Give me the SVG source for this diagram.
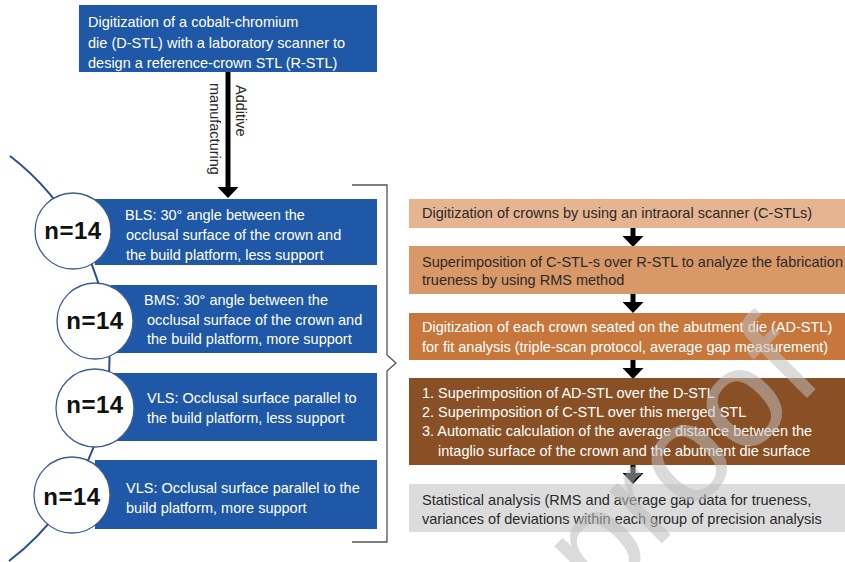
<svg xmlns="http://www.w3.org/2000/svg" width="845" height="562" viewBox="0 0 845 562">
<style>
text{font-family:"Liberation Sans",Arial,Helvetica,sans-serif;font-size:14.5px}
.w{fill:#ffffff}
.d{fill:#2a2a2a}
.blue{fill:#1f58a6}
.circ{fill:#ffffff;stroke:#3f5d93;stroke-width:1.3}
.n{font-size:24px;font-weight:bold;fill:#111;text-anchor:middle;letter-spacing:0.5px}
.shaft{stroke:#000;stroke-width:5;fill:none}
.wm{font-size:140px;fill:#bdbdbd;fill-opacity:0.55}
</style>
<defs>
<marker id="ah" markerUnits="userSpaceOnUse" markerWidth="11" markerHeight="21" viewBox="0 0 11 21" refX="0" refY="10.5" orient="auto">
<path d="M0,0 L11,10.5 L0,21 Z" fill="#000"/>
</marker>
</defs>
<rect width="845" height="562" fill="#ffffff"/>

<g id="arc">
<path d="M10,156 A255,255 0 0 1 9,561" fill="none" stroke="#2b4f8e" stroke-width="2"/>
</g>

<g id="top-node">
<rect class="blue" x="79" y="5" width="298" height="67"/>
<text class="w" x="88" y="27">Digitization of a cobalt-chromium</text>
<text class="w" x="88" y="47.5">die (D-STL) with a laboratory scanner to</text>
<text class="w" x="88" y="68">design a reference-crown STL (R-STL)</text>
</g>

<g id="connectors">
<line class="shaft" x1="228" y1="72" x2="228" y2="187" marker-end="url(#ah)"/>
<text class="d" font-size="14" transform="translate(236,85) rotate(90)">Additive</text>
<text class="d" font-size="14" transform="translate(210,83) rotate(90)">manufacturing</text>
<path d="M352,185 H387 V355 L396,363 L387,371 V542 H352" fill="none" stroke="#555" stroke-width="1.3"/>
<line class="shaft" x1="633" y1="228" x2="633" y2="236" marker-end="url(#ah)"/>
<line class="shaft" x1="633" y1="294" x2="633" y2="302" marker-end="url(#ah)"/>
<line class="shaft" x1="633" y1="360" x2="633" y2="368" marker-end="url(#ah)"/>
<line class="shaft" x1="633" y1="465" x2="633" y2="473" marker-end="url(#ah)"/>
</g>

<g id="bls">
<rect class="blue" x="95" y="199" width="282" height="66"/>
<circle class="circ" cx="73" cy="231" r="38"/>
<text class="n" x="73" y="239">n=14</text>
<text class="w" x="125" y="220">BLS: 30° angle between the</text>
<text class="w" x="126" y="240">occlusal surface of the crown and</text>
<text class="w" x="126" y="259.5">the build platform, less support</text>
</g>

<g id="bms">
<rect class="blue" x="111" y="285" width="266" height="68"/>
<circle class="circ" cx="95" cy="321" r="38"/>
<text class="n" x="95" y="329">n=14</text>
<text class="w" x="144" y="305">BMS: 30° angle between the</text>
<text class="w" x="147" y="324.5">occlusal surface of the crown and</text>
<text class="w" x="147" y="344">the build platform, more support</text>
</g>

<g id="vls1">
<rect class="blue" x="111" y="373" width="266" height="68"/>
<circle class="circ" cx="95" cy="408" r="39"/>
<text class="n" x="95" y="413">n=14</text>
<text class="w" x="147" y="403">VLS: Occlusal surface parallel to</text>
<text class="w" x="147" y="423">the build platform, less support</text>
</g>

<g id="vls2">
<rect class="blue" x="95" y="460" width="282" height="69"/>
<circle class="circ" cx="72" cy="495" r="38"/>
<text class="n" x="72" y="505">n=14</text>
<text class="w" x="126" y="493">VLS: Occlusal surface parallel to the</text>
<text class="w" x="126" y="512.5">build platform, more support</text>
</g>

<g id="step1">
<rect x="409" y="199" width="436" height="29" fill="#e6b490"/>
<text class="d" x="422" y="218">Digitization of crowns by using an intraoral scanner (C-STLs)</text>
</g>

<g id="step2">
<rect x="409" y="246" width="436" height="48" fill="#d89868"/>
<text class="d" x="422" y="266.5" font-size="14.8">Superimposition of C-STL-s over R-STL to analyze the fabrication</text>
<text class="d" x="422" y="285">trueness by using RMS method</text>
</g>

<g id="step3">
<rect x="409" y="313" width="436" height="47" fill="#c7773c"/>
<text class="w" x="422" y="332">Digitization of each crown seated on the abutment die (AD-STL)</text>
<text class="w" x="422" y="352">for fit analysis (triple-scan protocol, average gap measurement)</text>
</g>

<g id="step4">
<rect x="409" y="378" width="436" height="87" fill="#8a5025"/>
<text class="w" x="422" y="398">1. Superimposition of AD-STL over the D-STL</text>
<text class="w" x="422" y="417">2. Superimposition of C-STL over this merged STL</text>
<text class="w" x="422" y="436">3. Automatic calculation of the average distance between the</text>
<text class="w" x="438" y="455.5">intaglio surface of the crown and the abutment die surface</text>
</g>

<g id="step5">
<rect x="409" y="484" width="436" height="48" fill="#dcdcdc"/>
<text class="d" x="422" y="505">Statistical analysis (RMS and average gap data for trueness,</text>
<text class="d" x="422" y="523.5">variances of deviations within each group of precision analysis</text>
</g>

<g id="watermark">
<text class="wm" transform="translate(600,605) rotate(-45)">proof</text>
</g>
</svg>
